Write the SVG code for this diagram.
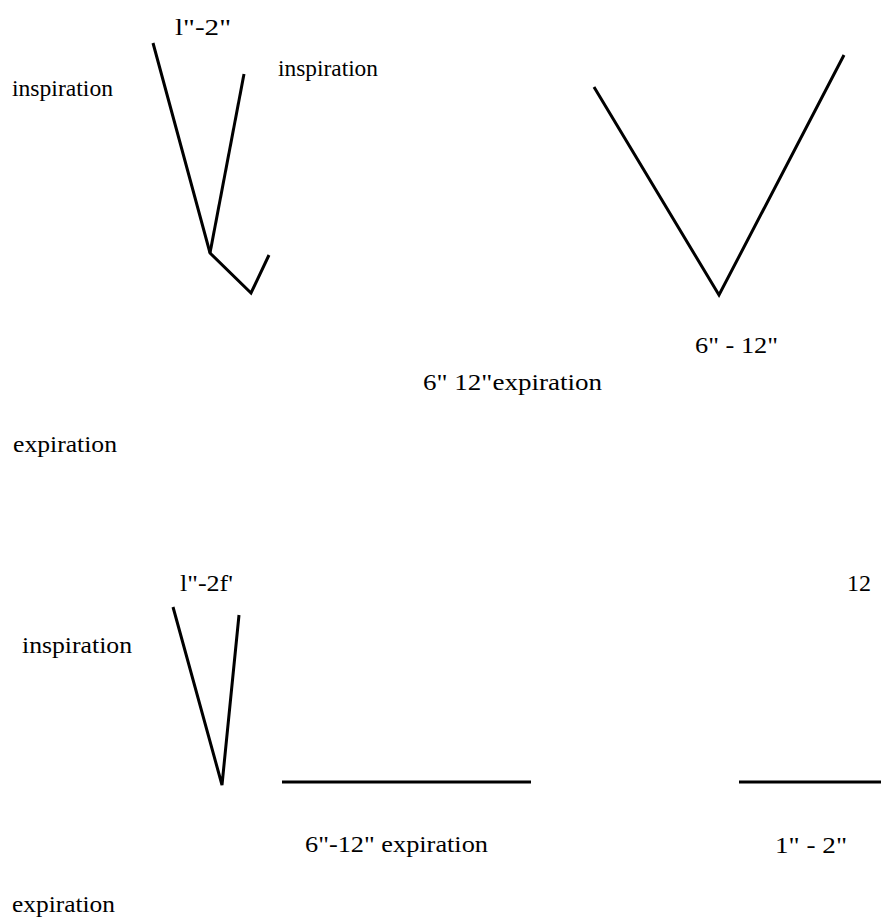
<svg xmlns="http://www.w3.org/2000/svg" width="881" height="919" viewBox="0 0 881 919">
<style>
text{font-family:"Liberation Serif","Times New Roman","DejaVu Serif",serif;font-size:24px;fill:#000}
.ln{fill:none;stroke:#000;stroke-width:3;stroke-linejoin:miter;stroke-linecap:butt}
</style>
<rect width="881" height="919" fill="#fff"/>
<g id="connectors">
<polyline class="ln" points="153,43 210,253 251,293 269,255"/>
<line class="ln" x1="244" y1="74" x2="210" y2="253"/>
<polyline class="ln" points="594,87 719,295 844,55"/>
<polyline class="ln" points="173,607 222,785 239,615"/>
<line class="ln" x1="282" y1="782" x2="531" y2="782" stroke-width="4"/>
<line class="ln" x1="739" y1="782" x2="881" y2="782" stroke-width="2"/>
</g>
<g id="labels">
<text x="175" y="35" textLength="56" lengthAdjust="spacingAndGlyphs">l"-2"</text>
<text x="12" y="96" textLength="101" lengthAdjust="spacingAndGlyphs">inspiration</text>
<text x="278" y="76" textLength="100" lengthAdjust="spacingAndGlyphs">inspiration</text>
<text x="695" y="353" textLength="83" lengthAdjust="spacingAndGlyphs">6" - 12"</text>
<text x="423" y="390" textLength="179" lengthAdjust="spacingAndGlyphs">6" 12"expiration</text>
<text x="13" y="452" textLength="104" lengthAdjust="spacingAndGlyphs">expiration</text>
<text x="180" y="591" textLength="53" lengthAdjust="spacingAndGlyphs">l"-2f'</text>
<text x="847" y="591">12</text>
<text x="22" y="653" textLength="110" lengthAdjust="spacingAndGlyphs">inspiration</text>
<text x="305" y="852" textLength="183" lengthAdjust="spacingAndGlyphs">6"-12" expiration</text>
<text x="775" y="853" textLength="72" lengthAdjust="spacingAndGlyphs">1" - 2"</text>
<text x="12" y="912" textLength="103" lengthAdjust="spacingAndGlyphs">expiration</text>
</g>
</svg>
